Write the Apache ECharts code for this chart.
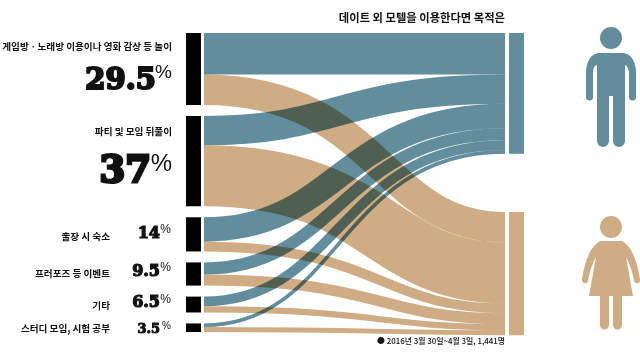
<!DOCTYPE html>
<html>
<head>
<meta charset="utf-8">
<style>html,body{margin:0;padding:0;background:#fff}#main{width:640px;height:355px}</style>
<script src="https://cdn.jsdelivr.net/npm/echarts@6/dist/echarts.min.js"></script>
</head>
<body>
<div id="main"></div>
<script>
let purposes = ['게임방ㆍ노래방 이용이나 영화 감상 등 놀이', '파티 및 모임 뒤풀이', '출장 시 숙소', '프러포즈 등 이벤트', '기타', '스터디 모임, 시험 공부'];
let shares = ['29.5', '37', '14', '9.5', '6.5', '3.5'];
let genders = ['남성', '여성'];
let maleValues = [17, 12, 10, 5, 4, 1.5];
let femaleValues = [12.5, 25, 4, 4.5, 2.5, 2];

const TEAL = '#618d9c';
const TAN = '#cfac84';
const KR = '"Noto Sans CJK KR"';
const NUM = '"DejaVu Serif"';

// 1 value unit = 2.44px, same scale the sankey nodes get
const PX = 2.44;
const LEFT_GAP = 11 / PX;
const FEMALE_TOP = 179 / PX;

let myChart = echarts.init(document.getElementById('main'));

echarts.graphic.registerShape('maleBody', echarts.graphic.extendPath('M598 53 L624 53 Q634 55 636 70 L636 97 A3.5 3.5 0 0 1 629 97 L629 72 Q628 66 625 65 L625 141 A6 6 0 0 1 613 141 L613 96 L609 96 L609 141 A6 6 0 0 1 597 141 L597 65 Q593 66 593 72 L593 97 A3.5 3.5 0 0 1 586 97 L586 70 Q588 55 598 53 Z'));
echarts.graphic.registerShape('femaleBody', echarts.graphic.extendPath('M600 241 L622 241 Q635 248 640 279 A3 3 0 0 1 634 281 Q632 268 626 257 L633 296 L622 296 L622 325 A4.5 4.5 0 0 1 613 325 L613 296 L609 296 L609 325 A4.5 4.5 0 0 1 600 325 L600 296 L589 296 L596 257 Q590 268 588 281 A3 3 0 0 1 582 279 Q587 248 600 241 Z'));

let links = [];
let bands = [];
let sy = 0, maleY = 0, femaleY = FEMALE_TOP;
purposes.forEach(function (name, i) {
    links.push({source: name, target: genders[0], value: maleValues[i], lineStyle: {opacity: 0}});
    links.push({source: name, target: genders[1], value: femaleValues[i], lineStyle: {opacity: 0}});
    bands.push([sy, maleY, maleValues[i], 0]);
    bands.push([sy + maleValues[i], femaleY, femaleValues[i], 1]);
    sy += maleValues[i] + femaleValues[i] + LEFT_GAP;
    maleY += maleValues[i];
    femaleY += femaleValues[i];
});

let nodes = purposes.map(function (name) {
    return {name: name, depth: 0, itemStyle: {color: '#000'}};
});
nodes.push({name: genders[0], depth: 1, localY: 0, itemStyle: {color: TEAL}});
nodes.push({name: genders[1], depth: 1, localY: 179 / 299, itemStyle: {color: TAN}});

function renderBand(params, api) {
    let w = api.size([0, api.value(2)])[1];
    let a = api.coord([0, api.value(0) + api.value(2) / 2]);
    let b = api.coord([1, api.value(1) + api.value(2) / 2]);
    let male = api.value(3) === 0;
    // 남성 곡선은 왼쪽, 여성 곡선은 오른쪽으로 조금 치우침
    let mid = (a[0] + b[0]) / 2 + (male ? -15 : 25);
    return {
        type: 'bezierCurve',
        shape: {x1: a[0], y1: a[1], cpx1: mid, cpy1: a[1], cpx2: mid, cpy2: b[1], x2: b[0], y2: b[1]},
        style: {fill: null, stroke: male ? TEAL : TAN, lineWidth: w}
    };
}

function text(x, y, str, size, align, font, weight, stroke) {
    return {
        type: 'text', x: x, y: y, silent: true,
        style: {
            text: str, fontSize: size, fontFamily: font, fontWeight: weight,
            fill: '#111', align: align, verticalAlign: 'middle',
            stroke: stroke ? '#111' : null, lineWidth: stroke || 0
        }
    };
}

// 항목별 라벨 위치
let labelPos = [[172, 46], [172, 131], [110, 236], [110, 273], [110, 305], [110, 328]];
let numPos = [[156, 81, 29, 2.2], [151, 172, 37, 3], [160, 234, 16, 1.2], [160, 272, 16, 1.2], [160, 303, 16, 1.2], [160, 330, 13, 1]];
let pctPos = [[172, 73, 19], [172, 164, 24], [171, 230, 12], [171, 268, 12], [171, 300, 12], [171, 326, 10]];

let graphics = [];
purposes.forEach(function (name, i) {
    graphics.push(text(labelPos[i][0], labelPos[i][1], name, 9.6, 'right', KR, 700));
    graphics.push(text(numPos[i][0], numPos[i][1], shares[i], numPos[i][2], 'right', NUM, 'bold', numPos[i][3]));
    graphics.push(text(pctPos[i][0], pctPos[i][1], '%', pctPos[i][2], 'right', '"Liberation Sans"', 'normal'));
});
graphics.push(text(505, 18, '데이트 외 모텔을 이용한다면 목적은', 11.3, 'right', KR, 700));
graphics.push(text(505, 341, '● 2016년 3월 30일~4월 3일, 1,441명', 7.9, 'right', KR, 500));

// 사람 아이콘
graphics.push({type: 'circle', shape: {cx: 611, cy: 38, r: 11}, style: {fill: TEAL}, silent: true});
graphics.push({type: 'maleBody', silent: true, style: {fill: TEAL}});
graphics.push({type: 'circle', shape: {cx: 611, cy: 227, r: 11}, style: {fill: TAN}, silent: true});
graphics.push({type: 'femaleBody', silent: true, style: {fill: TAN}});

let option = {
    backgroundColor: '#fff',
    animation: false,
    tooltip: {show: false},
    graphic: graphics,
    grid: {left: 204, width: 301, top: 33, height: 299},
    xAxis: {type: 'value', min: 0, max: 1, show: false},
    yAxis: {type: 'value', min: 0, max: 299 / PX, inverse: true, show: false},
    series: [
        {
            type: 'custom',
            silent: true,
            clip: false,
            animation: false,
            blendMode: 'multiply',
            renderItem: renderBand,
            encode: {x: 2, y: 0},
            data: bands
        },
        {
            type: 'sankey',
            left: 186, right: 116, top: 33, bottom: 23,
            nodeWidth: 15,
            nodeGap: 11,
            layoutIterations: 0,
            draggable: false,
            silent: true,
            animation: false,
            label: {show: false},
            emphasis: {disabled: true},
            data: nodes,
            links: links
        }
    ]
};

myChart.setOption(option, true);
window.addEventListener('resize', function () {
    myChart.resize();
});
</script>
</body>
</html>
